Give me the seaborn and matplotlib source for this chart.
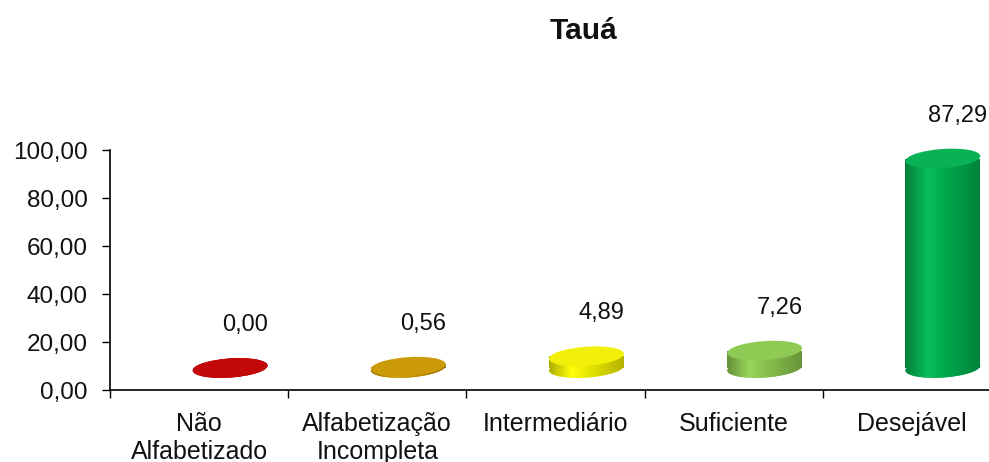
import numpy as np
import pandas as pd
import seaborn as sns
import matplotlib
matplotlib.use("Agg")
import matplotlib.pyplot as plt
import matplotlib.transforms as mtransforms
from matplotlib.patches import Ellipse
from matplotlib.colors import to_rgb, LinearSegmentedColormap

# ---- data ----
categories = ["Não\nAlfabetizado", "Alfabetização\nIncompleta", "Intermediário", "Suficiente", "Desejável"]
values = [0.00, 0.56, 4.89, 7.26, 87.29]
value_labels = ["0,00", "0,56", "4,89", "7,26", "87,29"]
bar_colors = ["#C00000", "#C99700", "#F2F000", "#8CC850", "#00B050"]
y_ticks = [0, 20, 40, 60, 80, 100]
y_tick_labels = ["0,00", "20,00", "40,00", "60,00", "80,00", "100,00"]
title = "Tauá"

sns.set_theme(style="white")
plt.rcParams['font.family'] = ['Liberation Sans', 'DejaVu Sans']

W, H = 989, 462
fig = plt.figure(figsize=(W / 100, H / 100), dpi=100)
ax = fig.add_axes([110 / W, 72 / H, 891 / W, 240 / H])

df = pd.DataFrame({"cat": categories, "val": values})
sns.barplot(data=df, x="cat", y="val", hue="cat", palette=bar_colors, width=0.42,
            legend=False, ax=ax, saturation=1, order=categories, hue_order=categories)

ax.set_xlim(-0.5, 4.5)
ax.set_ylim(0, 100)

# 3D depth offset (pixels)
DX, DY = 31, 22
off = mtransforms.offset_copy(ax.transData, fig=fig, x=DX, y=DY, units='dots')

ELL_W, ELL_H, ELL_ANG = 75, 19, 4


def shade_cmap(c):
    r = np.array(to_rgb(c))
    stops = [
        (0.0, np.clip(r * 0.72, 0, 1)),
        (0.30, np.clip(r * 1.02 + 0.04, 0, 1)),
        (0.55, np.clip(r * 0.95, 0, 1)),
        (1.0, np.clip(r * 0.74, 0, 1)),
    ]
    return LinearSegmentedColormap.from_list("s", stops)


grad = np.linspace(0, 1, 256).reshape(1, -1)

for i, patch in enumerate(ax.patches):
    x0 = patch.get_x()
    w = patch.get_width()
    h = patch.get_height()
    xc = x0 + w / 2
    c = bar_colors[i]
    cmap = shade_cmap(c)
    patch.set_transform(off)
    patch.set_clip_on(False)
    patch.set_edgecolor("none")
    patch.set_zorder(2)

    # bottom ellipse
    bot = Ellipse((0, 0), ELL_W, ELL_H, angle=ELL_ANG,
                  transform=mtransforms.ScaledTranslation(xc, 0, off),
                  facecolor=c, edgecolor="none", zorder=1.9, clip_on=False)
    ax.add_patch(bot)
    for clip in (patch, bot):
        im = ax.imshow(grad, cmap=cmap, aspect="auto", extent=[x0, x0 + w, -10, h + 10],
                       transform=off, zorder=2.1, interpolation="bilinear")
        im.set_clip_path(clip)
    # top ellipse
    topc = np.clip(np.array(to_rgb(c)) * 0.97 + 0.03, 0, 1)
    top = Ellipse((0, 0), ELL_W, ELL_H, angle=ELL_ANG,
                  transform=mtransforms.ScaledTranslation(xc, h, off),
                  facecolor=topc, edgecolor="none", zorder=3, clip_on=False)
    ax.add_patch(top)

    ax.annotate(value_labels[i], xy=(i, values[i]), xycoords="data",
                xytext=(DX + 15, DY + 43), textcoords="offset pixels",
                ha="center", va="center", fontsize=17, color="#111111",
                annotation_clip=False)

ax.set_xlim(-0.5, 4.5)
ax.set_ylim(0, 100)

# axes styling
for s in ["top", "right"]:
    ax.spines[s].set_visible(False)
for s in ["left", "bottom"]:
    ax.spines[s].set_color("black")
    ax.spines[s].set_linewidth(1.2)

ax.set_yticks(y_ticks)
ax.set_yticklabels(y_tick_labels)
ax.tick_params(axis="y", which="major", left=True, length=6, width=1, color="black",
               pad=10, labelsize=17.5, labelcolor="#111111")

ax.set_xticks(np.arange(-0.5, 5, 1.0))
ax.set_xticklabels([""] * 6)
ax.set_xticks(range(len(categories)), minor=True)
ax.set_xticklabels(categories, minor=True)
ax.tick_params(axis="x", which="major", bottom=True, length=6, width=1, color="black")
ax.tick_params(axis="x", which="minor", bottom=False, length=0, pad=16, labelsize=18,
               labelcolor="#111111")
ax.set_xlabel("")
ax.set_ylabel("")
ax.grid(False)

fig.text(583 / W, 1 - 31 / H, title, ha="center", va="center", fontsize=21.5,
         fontweight="bold", color="#111111")

fig.savefig("out.png", dpi=100)
